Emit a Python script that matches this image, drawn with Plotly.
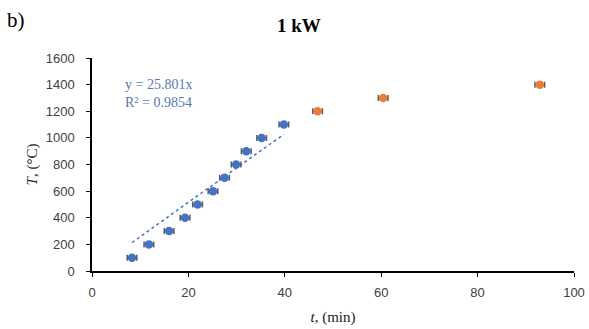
import plotly.graph_objects as go

t_fit = [8.3, 11.8, 16.0, 19.3, 21.9, 25.1, 27.5, 29.9, 32.0, 35.2, 39.8]
T_fit = [100, 200, 300, 400, 500, 600, 700, 800, 900, 1000, 1100]
t_extra = [46.8, 60.4, 92.9]
T_extra = [1200, 1300, 1400]
t_err = 1.0
slope = 25.801
r2 = 0.9854

serif = "Liberation Serif, Times New Roman, serif"
sans = "Liberation Sans, Arial, sans-serif"

fig = go.Figure()

trend_x = [min(t_fit), max(t_fit)]
fig.add_trace(go.Scatter(
    x=trend_x, y=[slope * v for v in trend_x], mode="lines",
    line=dict(color="#4472C4", width=1.5, dash="dot"),
    showlegend=False, hoverinfo="skip"))

fig.add_trace(go.Scatter(
    x=t_fit, y=T_fit, mode="markers",
    marker=dict(color="#4472C4", size=8.5),
    error_x=dict(type="constant", value=t_err, color="#595959", thickness=1.5, width=3),
    showlegend=False))

fig.add_trace(go.Scatter(
    x=t_extra, y=T_extra, mode="markers",
    marker=dict(color="#ED7D31", size=8.5),
    error_x=dict(type="constant", value=t_err, color="#595959", thickness=1.5, width=3),
    showlegend=False))

fig.update_layout(
    width=589, height=329,
    margin=dict(l=92, r=15, t=58, b=58),
    plot_bgcolor="white", paper_bgcolor="white",
    xaxis=dict(range=[0, 100], dtick=20, showgrid=False, zeroline=False,
               showline=True, linecolor="black", linewidth=1.5, automargin=False,
               ticks="outside", ticklen=4, tickcolor="black", ticklabelstandoff=5,
               tickfont=dict(family=sans, size=13, color="#404040"),
               title=dict(text="<i>t</i>, (min)", font=dict(family=serif, size=15, color="#222"), standoff=12)),
    yaxis=dict(range=[0, 1600], dtick=200, showgrid=False, zeroline=False,
               showline=True, linecolor="black", linewidth=1.5, automargin=False,
               ticks="outside", ticklen=4, tickcolor="black", ticklabelstandoff=9,
               tickfont=dict(family=sans, size=13, color="#404040"),
               title=dict(text="<i>T</i>, (°C)", font=dict(family=serif, size=15, color="#222"), standoff=4)),
    annotations=[
        dict(text="<b>1 kW</b>", xref="paper", yref="paper", x=0.43, y=1.0, yshift=33,
             yanchor="middle", showarrow=False, font=dict(family=serif, size=19, color="black")),
        dict(text="b)", xref="paper", yref="paper", x=0, y=1.0, xshift=-87, yshift=38,
             xanchor="left", yanchor="middle",
             showarrow=False, font=dict(family=serif, size=21, color="black")),
        dict(text=f"y = {slope}x<br>R² = {r2}", xref="x", yref="y", x=6.5, y=1470,
             xanchor="left", yanchor="top", align="left", showarrow=False,
             font=dict(family=serif, size=14, color="#5878B0")),
    ],
)

fig.write_html("out.html", config={"displayModeBar": False},
               post_script="document.body.style.margin='0';document.body.style.overflow='hidden';")
